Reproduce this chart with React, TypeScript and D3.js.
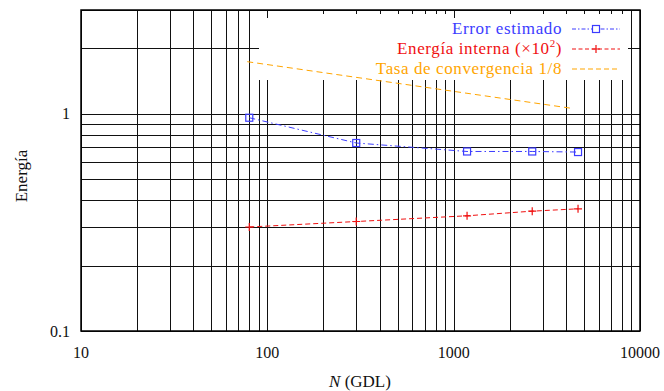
import * as d3 from "d3";
import { useEffect, useRef } from "react";

// values
const dof = [80, 300, 1180, 2640, 4650];
const errorEst = [0.958, 0.733, 0.67, 0.67, 0.666];
const energy = [0.301, 0.319, 0.339, 0.356, 0.365];
const rateN = [78, 4380];
const rateVal = [1.735, 1.056];
const xTickLabels = [10, 100, 1000, 10000];
const yTickLabels = [0.1, 1];

const BLUE = "#3c3cff";
const RED = "#f01010";
const ORANGE = "#ffa500";
const FONT = "'Liberation Serif', serif";

export default function App() {
  const ref = useRef<SVGSVGElement>(null);

  useEffect(() => {
    const svg = d3.select(ref.current);
    svg.selectAll("*").remove();

    const width = 664;
    const height = 391;
    const left = 81, right = 640, top = 10, bottom = 331;

    svg.attr("width", width).attr("height", height);

    const x = d3.scaleLog().domain([10, 10000]).range([left, right]);
    const y = d3.scaleLog().domain([0.1, 3]).range([bottom, top]);

    svg.append("rect").attr("width", width).attr("height", height).attr("fill", "white");

    // grid
    const grid = svg.append("g").attr("stroke", "#111").attr("stroke-width", 1).attr("shape-rendering", "crispEdges");
    grid.selectAll("line.v")
      .data(x.ticks())
      .join("line")
      .attr("class", "v")
      .attr("x1", d => Math.round(x(d)) + 0.5)
      .attr("x2", d => Math.round(x(d)) + 0.5)
      .attr("y1", top)
      .attr("y2", bottom);
    grid.selectAll("line.h")
      .data(y.ticks())
      .join("line")
      .attr("class", "h")
      .attr("y1", d => Math.round(y(d)) + 0.5)
      .attr("y2", d => Math.round(y(d)) + 0.5)
      .attr("x1", left)
      .attr("x2", right);

    // opaque key box hides the grid
    svg.append("rect")
      .attr("x", 259).attr("y", top + 1)
      .attr("width", 369).attr("height", 69)
      .attr("fill", "white");

    // short ticks along the top border inside key box
    const tks = svg.append("g").attr("stroke", "#111").attr("shape-rendering", "crispEdges");
    tks.selectAll("line")
      .data(x.ticks().filter(d => x(d) > 259 && x(d) < 628))
      .join("line")
      .attr("x1", d => Math.round(x(d)) + 0.5)
      .attr("x2", d => Math.round(x(d)) + 0.5)
      .attr("y1", top)
      .attr("y2", d => top + ([10, 100, 1000, 10000].includes(d) ? 8 : 4));
    tks.append("line")
      .attr("x1", 630).attr("x2", right)
      .attr("y1", Math.round(y(2)) + 0.5).attr("y2", Math.round(y(2)) + 0.5);

    // border
    svg.append("rect")
      .attr("x", left).attr("y", top)
      .attr("width", right - left).attr("height", bottom - top)
      .attr("fill", "none").attr("stroke", "#000").attr("stroke-width", 1.5);

    // data
    const line = d3.line<[number, number]>().x(d => x(d[0])).y(d => y(d[1]));

    svg.append("path")
      .datum(rateN.map((n, i) => [n, rateVal[i]] as [number, number]))
      .attr("d", line)
      .attr("fill", "none").attr("stroke", ORANGE).attr("stroke-width", 1)
      .attr("stroke-dasharray", "6,4");

    svg.append("path")
      .datum(dof.map((n, i) => [n, errorEst[i]] as [number, number]))
      .attr("d", line)
      .attr("fill", "none").attr("stroke", BLUE).attr("stroke-width", 1)
      .attr("stroke-dasharray", "6,3,1.5,3");

    svg.append("path")
      .datum(dof.map((n, i) => [n, energy[i]] as [number, number]))
      .attr("d", line)
      .attr("fill", "none").attr("stroke", RED).attr("stroke-width", 1)
      .attr("stroke-dasharray", "5,3");

    svg.append("g").selectAll("rect")
      .data(dof.map((n, i) => [n, errorEst[i]]))
      .join("rect")
      .attr("x", d => x(d[0]) - 3.5).attr("y", d => y(d[1]) - 3.5)
      .attr("width", 7).attr("height", 7)
      .attr("fill", "none").attr("stroke", BLUE).attr("stroke-width", 1.2);

    const plus = (g: any, cx: number, cy: number, s: number) => {
      g.append("path")
        .attr("d", `M${cx - s},${cy}H${cx + s}M${cx},${cy - s}V${cy + s}`)
        .attr("stroke", RED).attr("stroke-width", 1.2).attr("fill", "none");
    };
    const pg = svg.append("g");
    dof.forEach((n, i) => plus(pg, x(n), y(energy[i]), 4));

    // axis labels
    const ax = svg.append("g").attr("font-family", FONT).attr("font-size", 16).attr("fill", "#111");
    ax.selectAll("text.xt")
      .data(xTickLabels)
      .join("text")
      .attr("class", "xt")
      .attr("x", d => x(d))
      .attr("y", 358)
      .attr("text-anchor", "middle")
      .text(d => String(d));
    ax.selectAll("text.yt")
      .data(yTickLabels)
      .join("text")
      .attr("class", "yt")
      .attr("x", 70)
      .attr("y", d => y(d) + 5.5)
      .attr("text-anchor", "end")
      .text(d => String(d));

    const xl = ax.append("text").attr("x", 360).attr("y", 387).attr("text-anchor", "middle").attr("font-size", 17);
    xl.append("tspan").attr("font-style", "italic").text("N");
    xl.append("tspan").text(" (GDL)");

    ax.append("text")
      .attr("transform", "translate(27,176) rotate(-90)")
      .attr("text-anchor", "middle")
      .attr("font-size", 17)
      .text("Energía");

    // legend
    const lg = svg.append("g").attr("font-family", FONT).attr("font-size", 17).attr("letter-spacing", 0.6);
    const rows = [
      { label: "Error estimado", color: BLUE, dash: "4,2,1.5,2", mark: "square" },
      { label: "Energía interna", color: RED, dash: "4,2.5", mark: "plus" },
      { label: "Tasa de convergencia 1/8", color: ORANGE, dash: "5,3", mark: "none" },
    ];
    rows.forEach((r, i) => {
      const cy = 29 + i * 20;
      const t = lg.append("text").attr("x", 562).attr("y", cy + 5).attr("text-anchor", "end").attr("fill", r.color);
      t.text(r.label);
      if (i === 1) {
        t.append("tspan").text(" (×10");
        t.append("tspan").attr("font-size", 11).attr("dy", -7).text("2");
        t.append("tspan").attr("dy", 7).text(")");
      }
      lg.append("line")
        .attr("x1", 572).attr("x2", 620).attr("y1", cy).attr("y2", cy)
        .attr("stroke", r.color).attr("stroke-dasharray", r.dash);
      if (r.mark === "square") {
        lg.append("rect").attr("x", 592.5).attr("y", cy - 3.5).attr("width", 7).attr("height", 7)
          .attr("fill", "white").attr("stroke", r.color).attr("stroke-width", 1.2);
      } else if (r.mark === "plus") {
        plus(lg, 596, cy, 4);
      }
    });
  }, []);

  return (
    <div style={{ position: "absolute", left: 0, top: 0 }}>
      <svg ref={ref}></svg>
    </div>
  );
}
